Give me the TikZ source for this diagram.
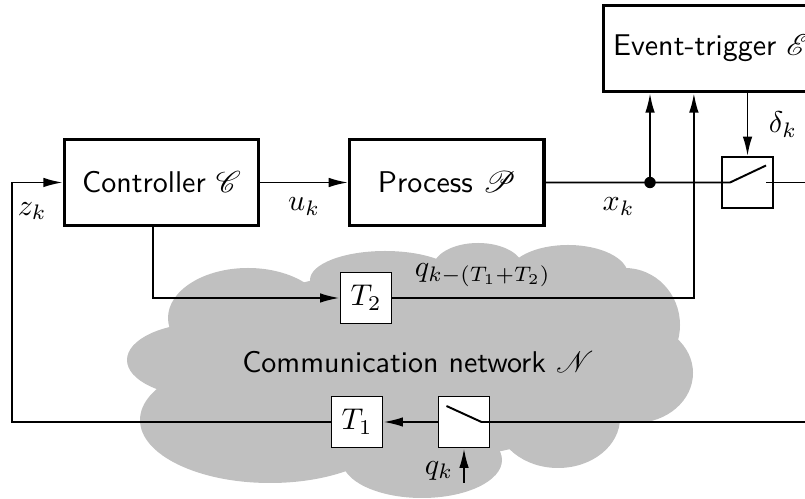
\documentclass[tikz,border=0pt]{standalone}
\usepackage{amsmath}
\usepackage{amssymb}
\usepackage{mathrsfs}
\usepackage{tikz}
\usetikzlibrary{arrows.meta, calc, positioning}
\definecolor{cloudgray}{RGB}{192,192,192}
\tikzstyle{block} = [rectangle, line width=1.1pt, minimum width=64.7pt, minimum height=28.7pt, text centered, draw=black, fill=white, font=\sffamily]
\tikzstyle{delay} = [rectangle, line width=0.65pt, minimum size=17pt, inner sep=0pt, draw=black, fill=white]
\tikzstyle{arrow} = [line width=0.65pt,-{Latex[length=6.5pt,width=3.2pt]}]
\tikzstyle{line} = [line width=0.65pt]

\begin{document}
\begin{tikzpicture}[x=0.3333pt, y=-0.3333pt, node distance = 29.3pt, auto]
	\useasboundingbox (0,0) rectangle (805,499);
	\clip (0,0) rectangle (805,499);
	% network cloud
	\foreach \cx/\cy/\wx/\wy in {248/318/80/50, 385/280/75/29, 478/268/45/25, 568/275/60/30,
		625/325/55/57, 635/373/58/50, 558/418/62/50, 422/460/80/38, 270/420/130/63,
		205/360/78/37, 410/365/215/95}
		\fill[cloudgray] (\cx,\cy) ellipse [x radius=\wx, y radius=\wy];
	\node (Net) at (418,362) {\sffamily Communication network $\mathscr{N}$};

	\node (Ctrl) [block] at (161.5,182.5) {Controller $\mathscr{C}$};
	\node (Proc) [block, right = of Ctrl] {Process $\mathscr{P}$};
	\node (Trig) [block] at (711,48.5) {Event-trigger $\mathscr{E}$};
	\node (SwA) [delay] at (747.5,182.5) {};
	\node (SwB) [delay] at (464,422) {};
	\node (Tone) [delay] at (357,422) {$T_1$};
	\node (Ttwo) [delay] at (366,298) {$T_2$};
	\coordinate (Split) at (650,182.5);
	\coordinate (Corner) at (12,182.5);
	\coordinate (OutA) at (805,182.5);
	\coordinate (OutB) at (805,422);
	\coordinate (Qin) at (464,483);

	\draw [arrow] (Ctrl) -- node[below=1.5pt]{$u_k$} (Proc);
	\draw [line] (Proc.east) -- node[below=1.5pt, pos=0.7]{$x_k$} (Split) -- (SwA.west) -- ++(9,0) -- ++(36,-17);
	\draw [line] ($(SwA.west)+(45,0)$) -- (OutA);
	\fill (Split) circle (1.9pt);
	\draw [arrow] (Split) -- (Split |- Trig.south);
	\draw [arrow] (SwA |- Trig.south) -- node[right=3.5pt]{$\delta_k$} (SwA.north);

	\draw [arrow] ([xshift=-2.8pt]Ctrl.south) |- (Ttwo.west);
	\draw [arrow] (Ttwo.east) -| node[pos=0.15, above]{$q_{k-(T_1+T_2)}$} ([xshift=-5.7pt]Trig.south);

	\draw [line] (OutB) -- (SwB.east) -- ++(-9,0) -- ++(-35,-16);
	\draw [arrow] (SwB.west) -- (Tone.east);
	\draw [arrow] (Qin) -- node[left, pos=0.35]{$q_k$} (SwB.south);
	\draw [arrow] (Tone.west) -| (Corner) -- node[below=3pt, pos=0.4]{$z_k$} (Ctrl.west);
\end{tikzpicture}
\end{document}
